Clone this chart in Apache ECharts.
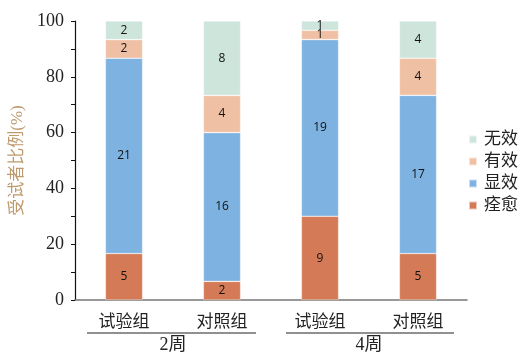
<!DOCTYPE html>
<html><head><meta charset="utf-8">
<script src="https://cdn.jsdelivr.net/npm/echarts@6/dist/echarts.min.js"></script>
<style>html,body{margin:0;padding:0;background:#fff}#c{width:527px;height:360px}</style>
</head><body><div id="c"></div>
<script>
const categories = ['试验组', '对照组', '试验组', '对照组'];
const groups = ['2周', '4周'];
const curedCounts = [5, 2, 9, 5];        // 痊愈
const markedCounts = [21, 16, 19, 17];   // 显效
const effectiveCounts = [2, 4, 1, 4];    // 有效
const ineffectiveCounts = [2, 8, 1, 4];  // 无效
const yTicks = [0, 20, 40, 60, 80, 100];

const seriesDefs = [
  { name: '痊愈', counts: curedCounts, color: '#D47A56' },
  { name: '显效', counts: markedCounts, color: '#7EB2E0' },
  { name: '有效', counts: effectiveCounts, color: '#F0C0A5' },
  { name: '无效', counts: ineffectiveCounts, color: '#CEE5DC' }
];
const totals = categories.map((_, i) => seriesDefs.reduce((s, d) => s + d.counts[i], 0));

const serif = "Liberation Serif, Times New Roman, DejaVu Serif, Noto Sans CJK SC, serif";
const chart = echarts.init(document.getElementById('c'));
chart.setOption({
  animation: false,
  grid: { left: 75, right: 60, top: 21, bottom: 60 },
  legend: {
    data: ['无效', '有效', '显效', '痊愈'],
    orient: 'vertical', left: 463, top: 126,
    itemWidth: 8, itemHeight: 8, itemGap: 5,
    icon: 'rect',
    textStyle: { fontFamily: serif, fontSize: 17, color: '#222', padding: [0, 0, 0, 2] }
  },
  xAxis: [
    {
      type: 'category', data: categories,
      axisLine: { lineStyle: { color: '#777', width: 1.5 } },
      axisTick: { show: false },
      axisLabel: { fontFamily: serif, fontSize: 17, color: '#222', margin: 14 }
    },
    {
      type: 'category', data: groups, position: 'bottom',
      axisLine: { show: false }, axisTick: { show: false },
      axisLabel: { fontFamily: serif, fontSize: 18, color: '#222', margin: 36 }
    }
  ],
  yAxis: {
    type: 'value', min: yTicks[0], max: yTicks[yTicks.length - 1], interval: 20,
    name: '受试者比例(%)', nameLocation: 'middle', nameGap: 45,
    nameTextStyle: { fontFamily: serif, fontSize: 17, color: '#BF9A6E' },
    axisLine: { show: true, lineStyle: { color: '#111', width: 1.2 } },
    axisTick: { show: true, length: 4, lineStyle: { color: '#111' } },
    minorTick: { show: true, splitNumber: 2, length: 4, lineStyle: { color: '#111' } },
    splitLine: { show: false },
    axisLabel: { fontFamily: serif, fontSize: 18, color: '#222', margin: 11 }
  },
  series: seriesDefs.map(d => ({
    name: d.name, type: 'bar', stack: 'all', barWidth: '38%',
    itemStyle: { color: d.color, borderColor: 'rgba(255,255,255,0.6)', borderWidth: 0.6 },
    label: {
      show: true, position: 'inside', color: '#111', fontSize: 12,
      fontFamily: "Open Sans, DejaVu Sans, sans-serif",
      formatter: p => String(d.counts[p.dataIndex])
    },
    data: d.counts.map((c, i) => c / totals[i] * 100)
  })),
  graphic: [
    { type: 'line', shape: { x1: 87, y1: 333, x2: 256, y2: 333 }, style: { stroke: '#222', lineWidth: 1 } },
    { type: 'line', shape: { x1: 286, y1: 333, x2: 454, y2: 333 }, style: { stroke: '#222', lineWidth: 1 } }
  ]
});
</script></body></html>
